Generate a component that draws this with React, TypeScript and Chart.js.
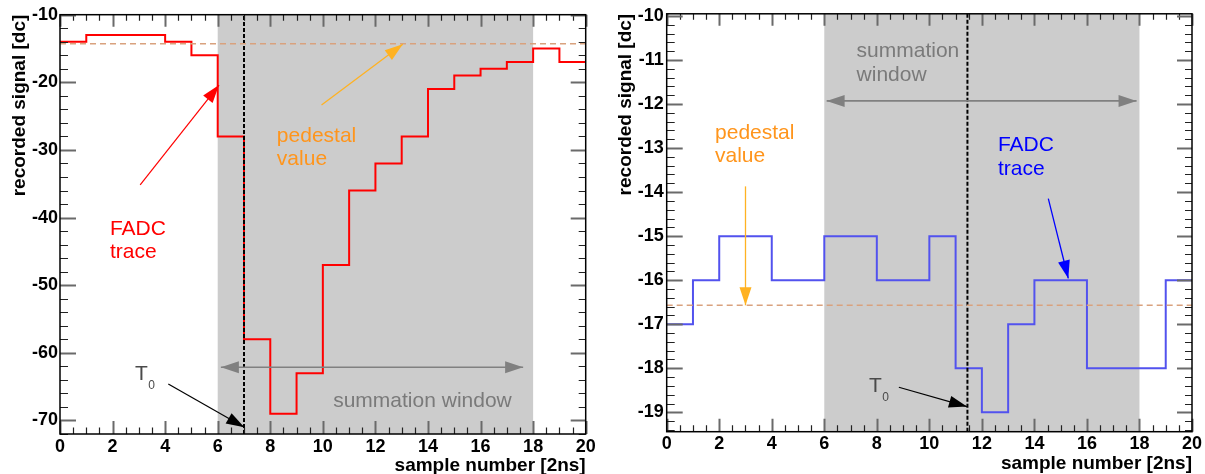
import React, { useEffect, useRef } from 'react';
import { Chart, registerables } from 'chart.js';

Chart.register(...registerables);

// ---------- data ----------
const sampleEdges = [0, 1, 2, 3, 4, 5, 6, 7, 8, 9, 10, 11, 12, 13, 14, 15, 16, 17, 18, 19, 20];
const redTrace = [-14, -13, -13, -13, -14, -16, -28, -58, -69, -63, -47, -36, -32, -28, -21, -19, -18, -17, -15, -17];
const blueTrace = [-17, -16, -15, -15, -16, -16, -15, -15, -16, -16, -15, -18, -19, -17, -16, -16, -18, -18, -18, -16];
const leftPedestal = -14.3;
const rightPedestal = -16.57;
const leftT0 = 7;
const rightT0 = 11.45;
const summationWindow = [6, 18];
const xTickValues = [0, 2, 4, 6, 8, 10, 12, 14, 16, 18, 20];
const leftYTickValues = [-70, -60, -50, -40, -30, -20, -10];
const rightYTickValues = [-19, -18, -17, -16, -15, -14, -13, -12, -11, -10];

const FONT = '"Liberation Sans", Arial, Helvetica, sans-serif';

type TextNote = { x: number; y: number; lines: string[]; color: string; gap?: number; align?: CanvasTextAlign };
type ArrowNote = { from: [number, number]; to: [number, number]; color: string; width: number; both?: boolean };

interface Panel {
  trace: number[];
  lineColor: string;
  pedestal: number;
  t0: number;
  yMin: number;
  yMax: number;
  yTicks: number[];
  yMinor: number;
  yMajor: number;
  yWidth: number;
  xHeight: number;
  padTop: number;
  padRight: number;
  yTitlePad: number;
  xTitlePad: number;
  yLabelPad: number;
  texts: TextNote[];
  arrows: ArrowNote[];
  t0Label: { x: number; y: number };
}

const leftPanel: Panel = {
  trace: redTrace,
  lineColor: '#ff0000',
  pedestal: leftPedestal,
  t0: leftT0,
  yMin: -72,
  yMax: -10,
  yTicks: leftYTickValues,
  yMinor: 2,
  yMajor: 10,
  yWidth: 60,
  xHeight: 40,
  padTop: 14.7,
  padRight: 14.3,
  yTitlePad: 8,
  xTitlePad: -1.5,
  yLabelPad: 2,
  texts: [
    { x: 1.9, y: -42.6, lines: ['FADC', 'trace'], color: '#ff0000', gap: 22.5 },
    { x: 8.25, y: -28.82, lines: ['pedestal', 'value'], color: '#ff951c', gap: 23.5 },
    { x: 13.79, y: -67.96, lines: ['summation window'], color: '#7a7a7a', align: 'center' },
  ],
  arrows: [
    { from: [3.05, -35.18], to: [6.05, -20.4], color: '#ff0000', width: 1.2 },
    { from: [9.95, -23.35], to: [13.04, -14.38], color: '#ffb222', width: 1.3 },
    { from: [6.12, -62.14], to: [17.62, -62.14], color: '#808080', width: 1.6, both: true },
    { from: [4.12, -64.6], to: [7.01, -71.01], color: '#000000', width: 1.2 },
  ],
  t0Label: { x: 2.85, y: -64.02 },
};

const rightPanel: Panel = {
  trace: blueTrace,
  lineColor: '#5252ee',
  pedestal: rightPedestal,
  t0: rightT0,
  yMin: -19.44,
  yMax: -9.952,
  yTicks: rightYTickValues,
  yMinor: 0.2,
  yMajor: 1,
  yWidth: 66.7,
  xHeight: 42.3,
  padTop: 13.3,
  padRight: 13,
  yTitlePad: 14,
  xTitlePad: 0.5,
  yLabelPad: 3,
  texts: [
    { x: 7.23, y: -10.94, lines: ['summation', 'window'], color: '#7a7a7a', gap: 24 },
    { x: 1.84, y: -12.79, lines: ['pedestal', 'value'], color: '#ff951c', gap: 23.4 },
    { x: 12.61, y: -13.07, lines: ['FADC', 'trace'], color: '#0000ff', gap: 23.5 },
  ],
  arrows: [
    { from: [6.09, -11.93], to: [17.89, -11.93], color: '#808080', width: 1.6, both: true },
    { from: [3, -13.87], to: [3, -16.57], color: '#ffb222', width: 1.3 },
    { from: [14.53, -14.15], to: [15.29, -15.96], color: '#0000ff', width: 1.3 },
    { from: [8.84, -18.43], to: [11.43, -18.87], color: '#000000', width: 1.2 },
  ],
  t0Label: { x: 7.7, y: -18.55 },
};

// ---------- drawing helpers ----------
function arrowHead(ctx: CanvasRenderingContext2D, x1: number, y1: number, x2: number, y2: number) {
  const L = 18;
  const W = 6;
  const ang = Math.atan2(y2 - y1, x2 - x1);
  const bx = x2 - L * Math.cos(ang);
  const by = y2 - L * Math.sin(ang);
  ctx.beginPath();
  ctx.moveTo(x2, y2);
  ctx.lineTo(bx + W * Math.sin(ang), by - W * Math.cos(ang));
  ctx.lineTo(bx - W * Math.sin(ang), by + W * Math.cos(ang));
  ctx.closePath();
  ctx.fill();
}

function makePlugin(p: Panel) {
  return {
    id: 'decor',
    beforeDatasetsDraw(chart: any) {
      const { ctx, chartArea: a, scales } = chart;
      const x = scales.x;
      const x0 = x.getPixelForValue(summationWindow[0]);
      const x1 = x.getPixelForValue(summationWindow[1]);
      ctx.save();
      ctx.fillStyle = '#cccccc';
      ctx.fillRect(x0, a.top, x1 - x0, a.bottom - a.top);
      ctx.restore();
    },
    afterDatasetsDraw(chart: any) {
      const { ctx, chartArea: a, scales } = chart;
      const xs = scales.x;
      const ys = scales.y;
      ctx.save();
      // tick marks (inside, on all four sides)
      const drawAxisTicks = (
        min: number, max: number, minor: number, major: number,
        fn: (v: number, len: number) => void,
      ) => {
        const k0 = Math.ceil(min / minor - 1e-6);
        const k1 = Math.floor(max / minor + 1e-6);
        for (let k = k0; k <= k1; k++) {
          const v = k * minor;
          const r = v / major;
          const isMajor = Math.abs(r - Math.round(r)) < 1e-6;
          fn(v, isMajor ? 1 : 0);
        }
      };
      drawAxisTicks(xs.min, xs.max, 0.5, 2, (v, m) => {
        const px = Math.round(xs.getPixelForValue(v)) + 0.5;
        ctx.strokeStyle = m ? '#6a6a6a' : '#222';
        ctx.lineWidth = m ? 2 : 1.2;
        const lb = m ? 13 : 6.5;
        const lt = m ? 12 : 6;
        ctx.beginPath();
        ctx.moveTo(px, a.bottom);
        ctx.lineTo(px, a.bottom - lb);
        ctx.moveTo(px, a.top);
        ctx.lineTo(px, a.top + lt);
        ctx.stroke();
      });
      drawAxisTicks(ys.min, ys.max, p.yMinor, p.yMajor, (v, m) => {
        const py = Math.round(ys.getPixelForValue(v)) + 0.5;
        ctx.strokeStyle = m ? '#6a6a6a' : '#222';
        ctx.lineWidth = m ? 2 : 1.2;
        const ll = m ? 16 : 8;
        const lr = m ? 15 : 7;
        ctx.beginPath();
        ctx.moveTo(a.left, py);
        ctx.lineTo(a.left + ll, py);
        ctx.moveTo(a.right, py);
        ctx.lineTo(a.right - lr, py);
        ctx.stroke();
      });
      // frame
      ctx.strokeStyle = '#000';
      ctx.lineWidth = 1.5;
      ctx.strokeRect(a.left, a.top, a.right - a.left, a.bottom - a.top);

      // arrows
      for (const ar of p.arrows) {
        const x1 = xs.getPixelForValue(ar.from[0]);
        const y1 = ys.getPixelForValue(ar.from[1]);
        const x2 = xs.getPixelForValue(ar.to[0]);
        const y2 = ys.getPixelForValue(ar.to[1]);
        ctx.strokeStyle = ar.color;
        ctx.fillStyle = ar.color;
        ctx.lineWidth = ar.width;
        ctx.beginPath();
        ctx.moveTo(x1, y1);
        ctx.lineTo(x2, y2);
        ctx.stroke();
        arrowHead(ctx, x1, y1, x2, y2);
        if (ar.both) arrowHead(ctx, x2, y2, x1, y1);
      }
      // texts
      ctx.textBaseline = 'alphabetic';
      ctx.font = `21px ${FONT}`;
      for (const t of p.texts) {
        const px = xs.getPixelForValue(t.x);
        const py = ys.getPixelForValue(t.y);
        ctx.fillStyle = t.color;
        ctx.textAlign = t.align || 'left';
        t.lines.forEach((line, i) => ctx.fillText(line, px, py + i * (t.gap || 23)));
      }
      // T0 label
      const tx = xs.getPixelForValue(p.t0Label.x);
      const ty = ys.getPixelForValue(p.t0Label.y);
      ctx.fillStyle = '#4a4a4a';
      ctx.textAlign = 'left';
      ctx.font = `21px ${FONT}`;
      ctx.fillText('T', tx, ty);
      const tw = ctx.measureText('T').width;
      ctx.font = `12px ${FONT}`;
      ctx.fillText('0', tx + tw + 0.5, ty + 8.8);
      ctx.restore();
    },
  };
}

function buildConfig(p: Panel): any {
  const stepData = sampleEdges.map((e, i) => ({ x: e, y: p.trace[Math.min(i, p.trace.length - 1)] }));
  const first = sampleEdges[0];
  const last = sampleEdges[sampleEdges.length - 1];
  return {
    type: 'line',
    data: {
      datasets: [
        {
          data: [{ x: first, y: p.pedestal }, { x: last, y: p.pedestal }],
          borderColor: '#d9a27e',
          borderWidth: 1.5,
          borderDash: [6, 4],
          pointRadius: 0,
        },
        {
          data: [{ x: p.t0, y: p.yMin }, { x: p.t0, y: p.yMax }],
          borderColor: '#000000',
          borderWidth: 2,
          borderDash: [4, 2],
          pointRadius: 0,
        },
        {
          data: stepData,
          stepped: 'before',
          borderColor: p.lineColor,
          borderWidth: 2,
          pointRadius: 0,
          fill: false,
        },
      ],
    },
    options: {
      animation: false,
      responsive: false,
      events: [],
      layout: { padding: { left: 0, top: p.padTop, right: p.padRight, bottom: 0 } },
      plugins: { legend: { display: false }, tooltip: { enabled: false } },
      scales: {
        x: {
          type: 'linear',
          min: 0,
          max: 20,
          afterBuildTicks: (s: any) => { s.ticks = xTickValues.map((v) => ({ value: v })); },
          afterFit: (s: any) => { s.height = p.xHeight; },
          grid: { display: false, drawTicks: false },
          border: { display: false },
          ticks: {
            font: { family: FONT, size: 18, weight: 'bold' },
            color: '#000',
            padding: 2,
            autoSkip: false,
            maxRotation: 0,
          },
          title: {
            display: true,
            text: 'sample number [2ns]',
            align: 'end',
            color: '#000',
            font: { family: FONT, size: 19, weight: 'bold', lineHeight: 1 },
            padding: { top: 0, bottom: p.xTitlePad },
          },
        },
        y: {
          type: 'linear',
          min: p.yMin,
          max: p.yMax,
          afterBuildTicks: (s: any) => { s.ticks = p.yTicks.map((v) => ({ value: v })); },
          afterFit: (s: any) => { s.width = p.yWidth; },
          grid: { display: false, drawTicks: false },
          border: { display: false },
          ticks: {
            font: { family: FONT, size: 18, weight: 'bold' },
            color: '#000',
            padding: p.yLabelPad,
            autoSkip: false,
          },
          title: {
            display: true,
            text: 'recorded signal [dc]',
            align: 'end',
            color: '#000',
            font: { family: FONT, size: 19, weight: 'bold', lineHeight: 1.2 },
            padding: { top: p.yTitlePad, bottom: 0 },
          },
        },
      },
    },
    plugins: [makePlugin(p)],
  };
}

function PanelChart({ panel, left, width }: { panel: Panel; left: number; width: number }) {
  const ref = useRef<HTMLCanvasElement>(null);
  useEffect(() => {
    const chart = new Chart(ref.current as HTMLCanvasElement, buildConfig(panel));
    return () => chart.destroy();
  }, [panel]);
  return (
    <canvas
      ref={ref}
      width={width}
      height={474}
      style={{ position: 'absolute', left, top: 0, width, height: 474, display: 'block' }}
    />
  );
}

export default function App() {
  return (
    <div style={{ position: 'fixed', left: 0, top: 0, width: 1205, height: 474, background: '#fff' }}>
      <PanelChart panel={leftPanel} left={0} width={600} />
      <PanelChart panel={rightPanel} left={600} width={605} />
    </div>
  );
}
